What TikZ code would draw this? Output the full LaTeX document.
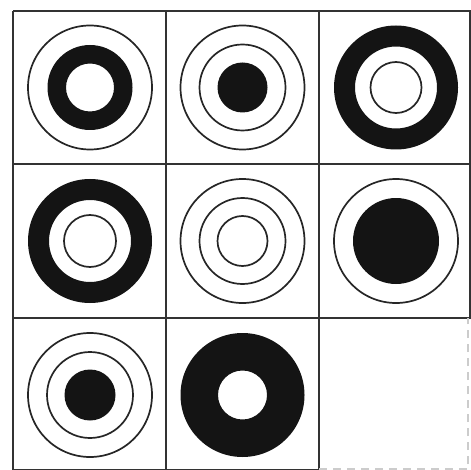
\documentclass[tikz,border=0pt]{standalone}
\begin{document}
\begin{tikzpicture}[x=0.5pt,y=-0.5pt,
  gridline/.style={line width=1.25pt,draw=black!80},
  thin/.style={line width=0.85pt,draw=black!85},
  blk/.style={fill=black!92},
  faint/.style={line width=0.8pt,draw=black!20,dash pattern=on 4pt off 3pt}]
\useasboundingbox (0,0) rectangle (470,470);
% cell centres
\coordinate (c11) at (90,87.5);
\coordinate (c12) at (242.5,87.5);
\coordinate (c13) at (396,87.5);
\coordinate (c21) at (90,241);
\coordinate (c22) at (242.5,241);
\coordinate (c23) at (396,241);
\coordinate (c31) at (90,395);
\coordinate (c32) at (242.5,395);
% grid
\draw[gridline] (13,11) -- (470.5,11);
\draw[gridline] (13,164) -- (470.5,164);
\draw[gridline] (13,318) -- (470.5,318);
\draw[gridline] (13,470) -- (319,470);
\draw[gridline] (13,11) -- (13,470);
\draw[gridline] (166,11) -- (166,470);
\draw[gridline] (319,11) -- (319,470);
\draw[gridline] (470.5,11) -- (470.5,318);
\draw[faint] (319,469) -- (468,469) -- (468,318);
% (1,1)
\draw[thin] (c11) circle (62);
\fill[blk,even odd rule] (c11) circle (42.5) (c11) circle (24);
% (1,2)
\draw[thin] (c12) circle (62);
\draw[thin] (c12) circle (43);
\fill[blk] (c12) circle (25);
% (1,3)
\fill[blk,even odd rule] (c13) circle (62) (c13) circle (41);
\draw[thin] (c13) circle (25.5);
% (2,1)
\fill[blk,even odd rule] (c21) circle (62) (c21) circle (41);
\draw[thin] (c21) circle (26);
% (2,2)
\draw[thin] (c22) circle (62);
\draw[thin] (c22) circle (43);
\draw[thin] (c22) circle (25);
% (2,3)
\draw[thin] (c23) circle (62);
\fill[blk] (c23) circle (43);
% (3,1)
\draw[thin] (c31) circle (62);
\draw[thin] (c31) circle (43);
\fill[blk] (c31) circle (25.5);
% (3,2)
\fill[blk,even odd rule] (c32) circle (62) (c32) circle (24.5);
\end{tikzpicture}
\end{document}
